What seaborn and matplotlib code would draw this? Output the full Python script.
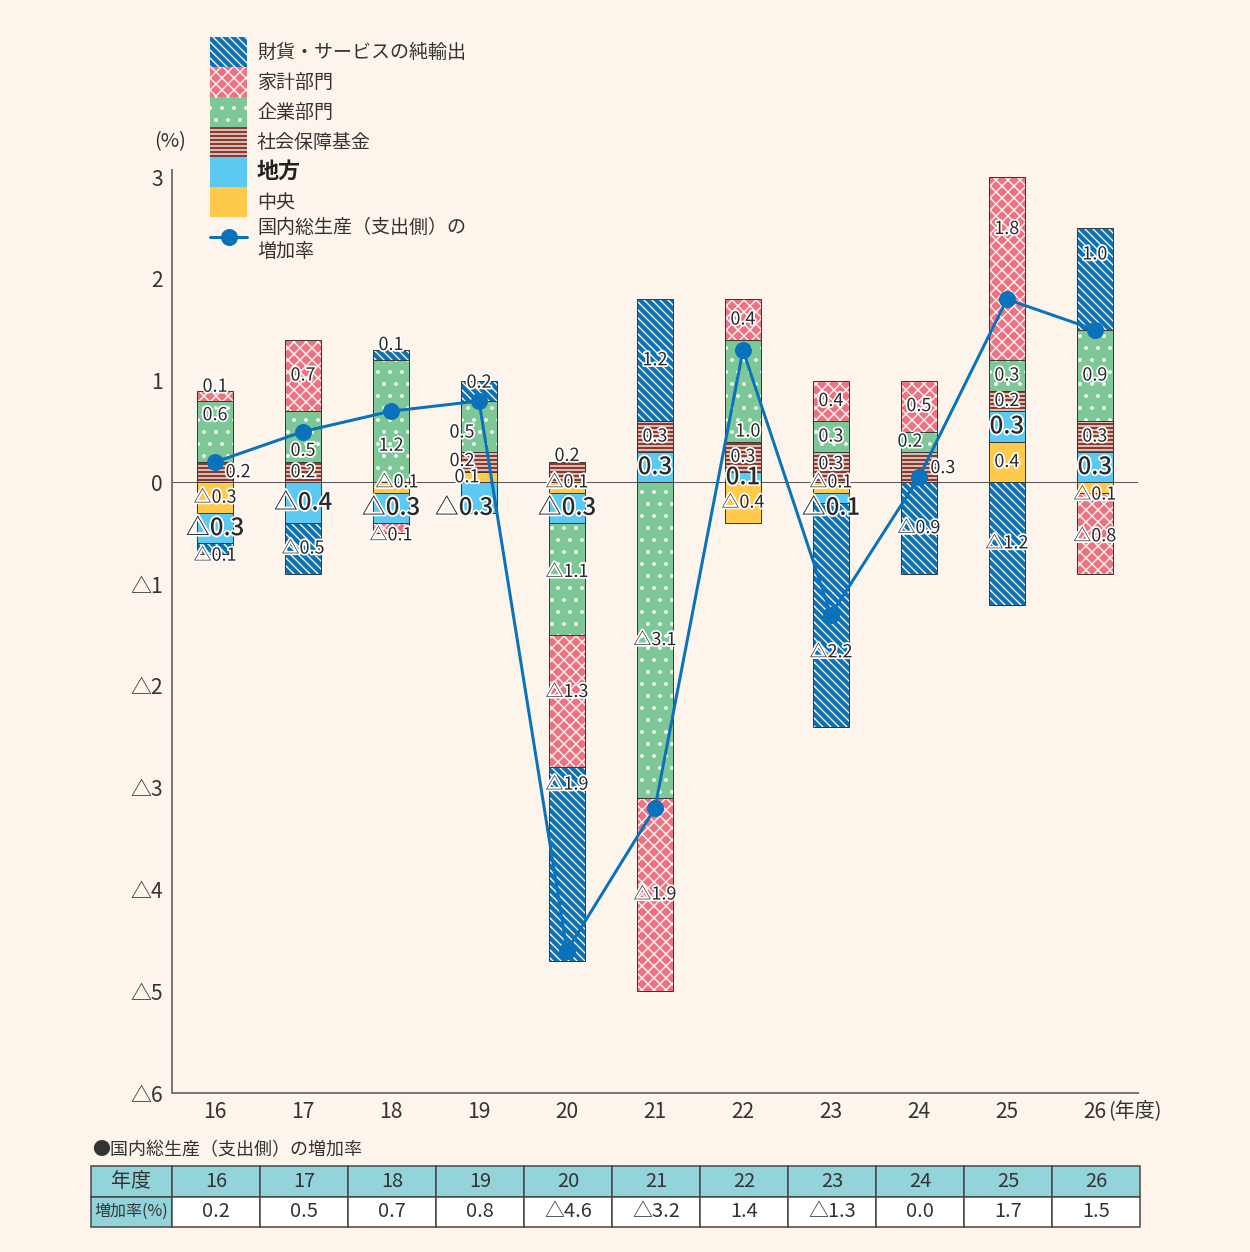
import matplotlib
matplotlib.use("Agg")
import matplotlib.pyplot as plt
import matplotlib.patheffects as pe
from matplotlib.patches import Patch
from matplotlib.lines import Line2D
import numpy as np
import pandas as pd
import seaborn as sns

# ---------------- data ----------------
years = ['16', '17', '18', '19', '20', '21', '22', '23', '24', '25', '26']
chuo = [-0.3, 0.0, -0.1, 0.1, -0.1, 0.0, -0.4, -0.1, 0.0, 0.4, -0.1]      # 中央
chiho = [-0.3, -0.4, -0.3, -0.3, -0.3, 0.3, 0.1, -0.1, 0.0, 0.3, 0.3]     # 地方
shaho = [0.2, 0.2, 0.0, 0.2, 0.2, 0.3, 0.3, 0.3, 0.3, 0.2, 0.3]           # 社会保障基金
kigyo = [0.6, 0.5, 1.2, 0.5, -1.1, -3.1, 1.0, 0.3, 0.2, 0.3, 0.9]         # 企業部門
kakei = [0.1, 0.7, -0.1, 0.0, -1.3, -1.9, 0.4, 0.4, 0.5, 1.8, -0.8]       # 家計部門
zaika = [-0.1, -0.5, 0.1, 0.2, -1.9, 1.2, 0.0, -2.2, -0.9, -1.2, 1.0]     # 財貨・サービスの純輸出
gdp_rate = [0.2, 0.5, 0.7, 0.8, -4.6, -3.2, 1.3, -1.3, 0.05, 1.8, 1.5]    # plotted line
gdp_table = ['0.2', '0.5', '0.7', '0.8', '△4.6', '△3.2', '1.4', '△1.3', '0.0', '1.7', '1.5']

names = ['中央', '地方', '社会保障基金', '企業部門', '家計部門', '財貨・サービスの純輸出']
series = [chuo, chiho, shaho, kigyo, kakei, zaika]
line_label = '国内総生産（支出側）の\n増加率'

# ---------------- styles ----------------
BG = '#FDF4EB'
styles = {
    '中央': ('#FFC94B', None),
    '地方': ('#5BC9F1', None),
    '社会保障基金': ('#8A3B2D', '---'),
    '企業部門': ('#7EC897', '.'),
    '家計部門': ('#EE7381', 'xx'),
    '財貨・サービスの純輸出': ('#0B72B7', '\\\\\\'),
}
LINE_C = '#0A72BA'
EDGE = '#3a3a3a'
TXT = '#2a2a2a'

# label position tweaks: (year index, series) -> (dx in px, y in data units)
label_pos = {
    (0, '家計部門'): (0, 0.94), (0, '企業部門'): (0, 0.66), (0, '社会保障基金'): (23, 0.10),
    (0, '財貨・サービスの純輸出'): (0, -0.72),
    (1, '企業部門'): (0, 0.31),
    (2, '財貨・サービスの純輸出'): (0, 1.35), (2, '企業部門'): (0, 0.36), (2, '中央'): (6, 0.0),
    (2, '家計部門'): (0, -0.52),
    (3, '財貨・サービスの純輸出'): (0, 0.98), (3, '企業部門'): (-17, 0.49),
    (3, '社会保障基金'): (-17, 0.21), (3, '中央'): (-12, 0.05), (3, '地方'): (-15, -0.25),
    (4, '社会保障基金'): (0, 0.26), (4, '中央'): (0, 0.0), (4, '企業部門'): (0, -0.88),
    (4, '家計部門'): (0, -2.06), (4, '財貨・サービスの純輸出'): (0, -2.97),
    (6, '企業部門'): (5, 0.50),
    (7, '社会保障基金'): (0, 0.18), (7, '中央'): (0, 0.0), (7, '地方'): (0, -0.25),
    (7, '財貨・サービスの純輸出'): (0, -1.67),
    (8, '企業部門'): (-9, 0.40), (8, '社会保障基金'): (24, 0.14),
    (9, '家計部門'): (0, 2.49),
    (10, '財貨・サービスの純輸出'): (0, 2.24), (10, '中央'): (0, -0.12), (10, '家計部門'): (0, -0.53),
}

sns.set_theme(style='white')
plt.rcParams['font.family'] = ['Noto Sans CJK JP', 'DejaVu Sans']
plt.rcParams['hatch.linewidth'] = 1.3
plt.rcParams['axes.unicode_minus'] = False

W, H = 1250, 1252
fig = plt.figure(figsize=(W / 72, H / 72), dpi=72, facecolor=BG)
ax = fig.add_axes([172 / W, 1 - 1093 / H, 966 / W, 923 / H])
ax.set_facecolor(BG)

x = np.arange(len(years))
bw = 0.405
pos_base = np.zeros(len(years))
neg_base = np.zeros(len(years))
labels = []
for name, vals in zip(names, series):
    vals = np.asarray(vals, dtype=float)
    fc, hatch = styles[name]
    bottoms = np.where(vals >= 0, pos_base, neg_base)
    idx = np.nonzero(vals)[0]
    ax.bar(x[idx], vals[idx], bottom=bottoms[idx], width=bw, color=fc,
           edgecolor='white', hatch=hatch, linewidth=0, zorder=2)
    ax.bar(x[idx], vals[idx], bottom=bottoms[idx], width=bw, fill=False,
           edgecolor=EDGE, linewidth=1.0, zorder=2.5)
    for i in idx:
        labels.append((i, name, vals[i], bottoms[i] + vals[i] / 2))
    pos_base += np.where(vals > 0, vals, 0)
    neg_base += np.where(vals < 0, vals, 0)

ax.axhline(0, color='#555555', lw=1.0, zorder=1)

df_line = pd.DataFrame({'x': x, 'rate': gdp_rate})
sns.lineplot(data=df_line, x='x', y='rate', ax=ax, color=LINE_C, linewidth=3,
             marker='o', markersize=17, markeredgewidth=0, zorder=4, legend=False)

stroke = [pe.withStroke(linewidth=3.5, foreground='white')]
for i, name, v, ymid in labels:
    dx, yy = label_pos.get((i, name), (0, ymid))
    txt = ('△' if v < 0 else '') + f'{abs(v):.1f}'
    big = name == '地方'
    ax.annotate(txt, xy=(i, yy), xytext=(dx, 0), textcoords='offset points',
                ha='center', va='center', fontsize=24 if big else 18,
                fontweight=500 if big else 'normal',
                color=TXT, path_effects=stroke, zorder=5)

# axes styling
ax.set_xlim(-0.49, 10.49)
ax.set_ylim(-6, 3.07)
ax.set_xticks(x)
ax.set_xticklabels(years)
yt = list(range(-6, 4))
ax.set_yticks(yt)
ax.set_yticklabels([('△' + str(-t)) if t < 0 else str(t) for t in yt])
ax.tick_params(axis='x', length=0, pad=8, labelsize=21, labelcolor='#333333')
ax.tick_params(axis='y', direction='in', length=7, width=1.5, color='#666666',
               pad=9, labelsize=21, labelcolor='#333333')
for s in ['top', 'right']:
    ax.spines[s].set_visible(False)
for s in ['left', 'bottom']:
    ax.spines[s].set_color('#777777')
    ax.spines[s].set_linewidth(2)
ax.set_xlabel('')
ax.set_ylabel('')

ax.annotate('(年度)', xy=(10, 0), xycoords=('data', 'axes fraction'), xytext=(13, -8),
            textcoords='offset points', ha='left', va='top', fontsize=20, color='#333333')
fig.text(170 / W, 1 - 142 / H, '(%)', ha='center', va='center', fontsize=20, color='#333333')

# legend
handles = []
leg_labels = []
for name in names[::-1]:
    fc, hatch = styles[name]
    handles.append(Patch(facecolor=fc, edgecolor='white', hatch=hatch, linewidth=0))
    leg_labels.append(name)
handles.append(Line2D([], [], color=LINE_C, lw=3, marker='o', markersize=17, markeredgewidth=0))
leg_labels.append(line_label)
fs = 19
hh = 2.052
leg = fig.legend(handles, leg_labels, loc='upper left', bbox_to_anchor=(210 / W, 1 - 37 / H),
                 frameon=False, fontsize=fs, handlelength=37 / fs, handleheight=hh,
                 labelspacing=0.0, handletextpad=10 / fs, borderpad=0, borderaxespad=0)
for t in leg.get_texts():
    t.set_color('#333333')
    if t.get_text() == '地方':
        t.set_fontsize(22)
        t.set_fontweight('bold')
        t.set_color('#222222')

# table
fig.text(92 / W, 1 - 1150 / H, '●国内総生産（支出側）の増加率', ha='left', va='center',
         fontsize=18, color='#333333')
HEAD = '#93D4DB'
cell_text = [['年度'] + years, ['増加率(%)'] + gdp_table]
cell_col = [[HEAD] * 12, [HEAD] + ['white'] * 11]
tx0, tx1, ty0, ty1 = 91, 1140, 1166, 1227
bbox = [(tx0 - 172) / 966, (1093 - ty1) / 923, (tx1 - tx0) / 966, (ty1 - ty0) / 923]
tbl = ax.table(cellText=cell_text, cellColours=cell_col, cellLoc='center',
               colWidths=[81] + [88] * 11, bbox=bbox)
tbl.auto_set_font_size(False)
for (r, c), cell in tbl.get_celld().items():
    cell.set_edgecolor('#444444')
    cell.set_linewidth(1.5)
    cell.get_text().set_fontsize(16 if (r == 1 and c == 0) else 20)
    cell.get_text().set_color('#333333')

fig.savefig('out.png', dpi=72, facecolor=BG)
